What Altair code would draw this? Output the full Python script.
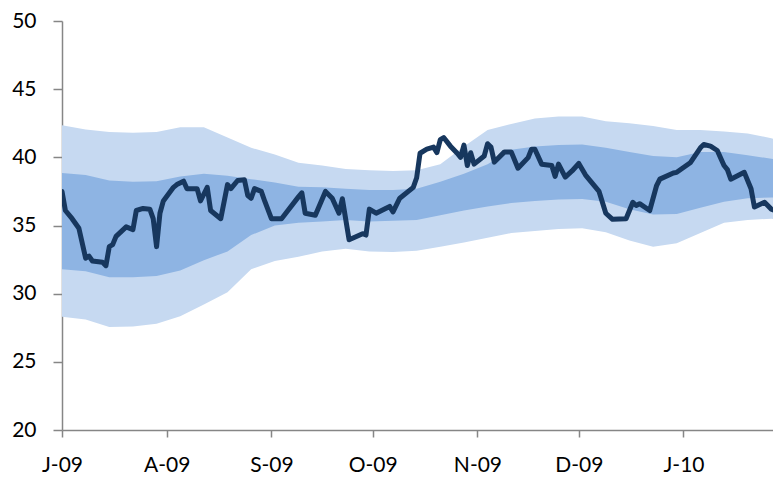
import altair as alt
import pandas as pd

# ---- data ----
band_dates = [
    "2009-07-01", "2009-07-08", "2009-07-15", "2009-07-22", "2009-07-29",
    "2009-08-05", "2009-08-12", "2009-08-19", "2009-08-26", "2009-09-02",
    "2009-09-09", "2009-09-16", "2009-09-23", "2009-09-30", "2009-10-07",
    "2009-10-14", "2009-10-21", "2009-10-28", "2009-11-04", "2009-11-11",
    "2009-11-18", "2009-11-25", "2009-12-02", "2009-12-09", "2009-12-16",
    "2009-12-23", "2009-12-30", "2010-01-06", "2010-01-13", "2010-01-20",
    "2010-01-27", "2010-01-30",
]
outer_high = [42.35, 42.05, 41.85, 41.8, 41.85, 42.2, 42.2, 41.45, 40.7, 40.2,
              39.6, 39.4, 39.15, 39.05, 39.0, 39.05, 39.5, 40.8, 42.0, 42.45,
              42.85, 43.0, 43.0, 42.65, 42.5, 42.3, 42.0, 42.0, 41.9, 41.75,
              41.4, 41.2]
inner_high = [38.85, 38.7, 38.3, 38.2, 38.25, 38.6, 38.8, 38.65, 38.4, 38.15,
              37.85, 37.8, 37.7, 37.6, 37.6, 37.7, 38.2, 38.8, 39.5, 40.55,
              40.8, 40.9, 40.95, 40.7, 40.4, 40.1, 40.0, 40.4, 40.4, 40.15,
              39.9, 39.8]
inner_low = [31.8, 31.65, 31.2, 31.2, 31.3, 31.7, 32.45, 33.1, 34.3, 35.0,
             35.2, 35.3, 35.4, 35.3, 35.35, 35.4, 35.75, 36.1, 36.4, 36.65,
             36.8, 36.9, 36.95, 36.75, 36.2, 35.8, 35.85, 36.3, 36.75, 37.0,
             37.05, 37.05]
outer_low = [28.3, 28.1, 27.55, 27.6, 27.8, 28.35, 29.2, 30.1, 31.8, 32.4,
             32.7, 33.1, 33.3, 33.1, 33.05, 33.15, 33.45, 33.75, 34.1, 34.45,
             34.6, 34.75, 34.8, 34.5, 33.9, 33.45, 33.7, 34.45, 35.2, 35.4,
             35.5, 35.4]

line_dates = [
    "2009-07-01", "2009-07-02", "2009-07-04", "2009-07-06", "2009-07-08",
    "2009-07-09", "2009-07-10", "2009-07-13", "2009-07-14", "2009-07-15",
    "2009-07-16", "2009-07-17", "2009-07-20", "2009-07-22", "2009-07-23",
    "2009-07-25", "2009-07-27", "2009-07-28", "2009-07-29", "2009-07-30",
    "2009-07-31", "2009-08-03", "2009-08-04", "2009-08-06", "2009-08-07",
    "2009-08-10", "2009-08-11", "2009-08-13", "2009-08-14", "2009-08-17",
    "2009-08-19", "2009-08-20", "2009-08-22", "2009-08-24", "2009-08-25",
    "2009-08-26", "2009-08-27", "2009-08-29", "2009-08-30", "2009-09-01",
    "2009-09-04", "2009-09-09", "2009-09-10", "2009-09-11", "2009-09-14",
    "2009-09-17", "2009-09-19", "2009-09-21", "2009-09-22", "2009-09-24",
    "2009-09-28", "2009-09-29", "2009-09-30", "2009-10-02", "2009-10-06",
    "2009-10-07", "2009-10-09", "2009-10-13", "2009-10-14", "2009-10-15",
    "2009-10-17", "2009-10-19", "2009-10-20", "2009-10-21", "2009-10-22",
    "2009-10-24", "2009-10-26", "2009-10-27", "2009-10-28", "2009-10-29",
    "2009-10-30", "2009-10-31", "2009-11-03", "2009-11-04", "2009-11-05",
    "2009-11-06", "2009-11-09", "2009-11-11", "2009-11-13", "2009-11-16",
    "2009-11-17", "2009-11-18", "2009-11-20", "2009-11-23", "2009-11-24",
    "2009-11-25", "2009-11-27", "2009-11-29", "2009-12-01", "2009-12-03",
    "2009-12-07", "2009-12-09", "2009-12-11", "2009-12-15", "2009-12-17",
    "2009-12-18", "2009-12-19", "2009-12-22", "2009-12-24", "2009-12-25",
    "2009-12-29", "2009-12-30", "2010-01-03", "2010-01-06", "2010-01-07",
    "2010-01-09", "2010-01-11", "2010-01-13", "2010-01-14", "2010-01-15",
    "2010-01-19", "2010-01-21", "2010-01-22", "2010-01-25", "2010-01-27",
    "2010-01-28", "2010-01-30",
]
line_values = [
    37.5, 36.1, 35.5, 34.8, 32.6, 32.75, 32.4, 32.3, 32.05, 33.45,
    33.6, 34.2, 34.9, 34.7, 36.1, 36.25, 36.2, 35.5, 33.45, 35.9,
    36.8, 37.8, 38.0, 38.25, 37.7, 37.7, 36.8, 37.8, 36.1, 35.5,
    38.0, 37.7, 38.3, 38.35, 37.2, 37.0, 37.7, 37.5, 36.8, 35.5,
    35.5, 37.1, 37.4, 35.9, 35.75, 37.5, 37.0, 35.9, 36.96, 33.95,
    34.4, 34.3, 36.2, 35.9, 36.4, 36.0, 37.0, 37.8, 38.5, 40.3,
    40.6, 40.75, 40.34, 41.3, 41.45, 40.82, 40.3, 40.0, 40.9, 39.4,
    40.34, 39.5, 40.1, 41.0, 40.76, 39.65, 40.4, 40.4, 39.2, 39.98,
    40.6, 40.6, 39.5, 39.4, 38.6, 39.5, 38.55, 39.0, 39.55, 38.7,
    37.5, 35.9, 35.45, 35.5, 36.7, 36.47, 36.6, 36.1, 37.9, 38.4,
    38.85, 38.9, 39.6, 40.7, 40.94, 40.82, 40.5, 39.4, 39.1, 38.4,
    38.9, 37.7, 36.35, 36.7, 36.2, 36.1, 35.5,
]

y_ticks = [20, 25, 30, 35, 40, 45, 50]
tick_months = [(2009, 7), (2009, 8), (2009, 9), (2009, 10), (2009, 11), (2009, 12), (2010, 1)]

# ---- tables ----
bands = pd.DataFrame({
    "date": band_dates,
    "outer_low": outer_low,
    "outer_high": outer_high,
    "inner_low": inner_low,
    "inner_high": inner_high,
})
series = pd.DataFrame({"date": line_dates, "value": line_values})

FONT = "Lato"
AXIS_GREY = "#868686"

x_enc = alt.X(
    "date:T",
    scale=alt.Scale(
        type="utc",
        domain=[
            alt.DateTime(year=2009, month=7, date=1, utc=True),
            alt.DateTime(year=2010, month=1, date=27, hours=12, utc=True),
        ],
    ),
    axis=alt.Axis(
        title=None,
        grid=False,
        values=[alt.DateTime(year=y, month=m, date=1, utc=True) for y, m in tick_months],
        labelExpr="slice(utcFormat(datum.value, '%b'), 0, 1) + '-' + utcFormat(datum.value, '%y')",
        tickSize=7,
        labelPadding=17,
        labelAlign="center",
    ),
)

y_axis = alt.Axis(
    title=None,
    grid=False,
    values=y_ticks,
    tickSize=9,
    labelPadding=17,
)
y_scale = alt.Scale(domain=[20, 50], nice=False, zero=False)

outer = alt.Chart(bands).mark_area(color="#C6D9F1", opacity=1, clip=True).encode(
    x=x_enc,
    y=alt.Y("outer_low:Q", scale=y_scale, axis=y_axis),
    y2="outer_high:Q",
)
inner = alt.Chart(bands).mark_area(color="#8EB4E3", opacity=1, clip=True).encode(
    x=x_enc,
    y=alt.Y("inner_low:Q", scale=y_scale, axis=y_axis),
    y2="inner_high:Q",
)
line = alt.Chart(series).mark_line(
    color="#17375E", strokeWidth=5, strokeJoin="round", strokeCap="round", clip=True
).encode(
    x=x_enc,
    y=alt.Y("value:Q", scale=y_scale, axis=y_axis),
)

chart = alt.layer(outer, inner, line).properties(
    width=711,
    height=409,
    padding={"left": 54, "top": 13, "right": 0, "bottom": 44},
    autosize=alt.AutoSizeParams(type="none"),
).configure_view(
    stroke=None
).configure_axis(
    domainColor=AXIS_GREY,
    domainWidth=1.5,
    tickColor=AXIS_GREY,
    tickWidth=1.5,
    labelFont=FONT,
    labelFontSize=21,
    labelColor="#000000",
)

chart.save("out.html", embed_options={"renderer": "svg", "actions": False})
